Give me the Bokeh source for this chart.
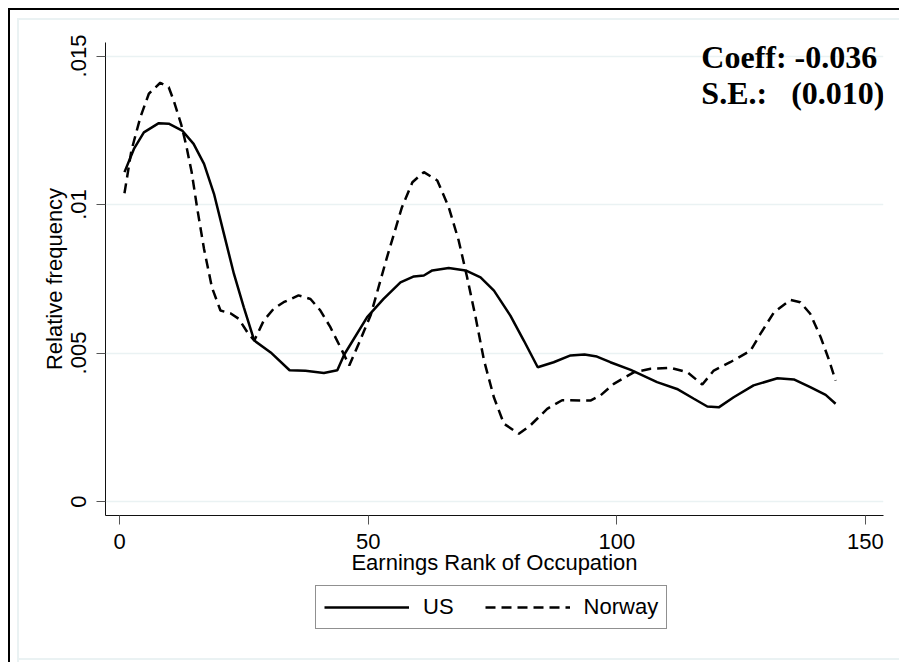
from bokeh.plotting import figure
from bokeh.layouts import column
from bokeh.models import (Range1d, FixedTicker, CustomJSTickFormatter, Legend, LegendItem, Label)
from bokeh.embed import file_html
from bokeh.resources import INLINE

# ---- data ----
us_x = [1, 2.9, 4.9, 7.9, 9.9, 12.6, 14.9, 17.0, 19.0, 21.0, 23.0, 25.0, 27.1, 30.4, 34.2,
        37.4, 41.1, 43.8, 45.2, 49.8, 53.1, 56.5, 59.2, 61.2, 62.9, 66.2, 69.6, 72.6, 75.3,
        78.6, 81.3, 84.1, 87.3, 90.7, 93.5, 96.0, 98.7, 102.8, 108.1, 112.1, 115.5, 118.2,
        120.5, 123.5, 127.5, 132.3, 135.6, 138.9, 142.0, 144.0]
us_y = [0.01109, 0.01187, 0.01243, 0.01274, 0.01272, 0.01249, 0.01204, 0.01137, 0.01036,
        0.00901, 0.00767, 0.00654, 0.00542, 0.00502, 0.00442, 0.00440, 0.00433, 0.00442,
        0.00495, 0.00621, 0.00682, 0.00738, 0.00758, 0.00761, 0.00778, 0.00786, 0.00778,
        0.00755, 0.00710, 0.00626, 0.00542, 0.00452, 0.00469, 0.00492, 0.00495, 0.00488,
        0.00469, 0.00443, 0.00402, 0.00379, 0.00346, 0.00320, 0.00317, 0.00351, 0.00391,
        0.00415, 0.00411, 0.00385, 0.00359, 0.00329]

no_x = [1, 2.4, 4.2, 5.9, 8.2, 9.9, 10.9, 12.4, 13.4, 14.5, 15.6, 17.0, 18.6, 20.3, 22.3,
        24.0, 25.7, 27.1, 29.0, 31.0, 33.0, 36.0, 38.4, 40.4, 42.4, 44.4, 46.2, 48.1, 50.5,
        53.8, 56.8, 58.9, 61.2, 63.9, 66.2, 68.2, 69.9, 71.6, 73.3, 75.3, 77.3, 80.3, 82.6,
        86.0, 89.0, 94.7, 96.7, 99.4, 103.4, 106.8, 110.8, 114.2, 117.2, 119.5, 122.8,
        126.9, 128.9, 131.6, 134.9, 136.9, 138.9, 141.0, 142.6, 144.0]
no_y = [0.01038, 0.01182, 0.01294, 0.01373, 0.01410, 0.01395, 0.01350, 0.01270, 0.01200,
        0.01110, 0.00990, 0.00850, 0.00720, 0.00643, 0.00634, 0.00615, 0.00570, 0.00542,
        0.00609, 0.00649, 0.00671, 0.00694, 0.00682, 0.00643, 0.00587, 0.00520, 0.00458,
        0.00531, 0.00627, 0.00823, 0.00991, 0.01075, 0.01109, 0.01081, 0.00991, 0.00879,
        0.00755, 0.00621, 0.00475, 0.00350, 0.00262, 0.00228, 0.00256, 0.00312, 0.00341,
        0.00340, 0.00357, 0.00396, 0.00435, 0.00447, 0.00450, 0.00435, 0.00394, 0.00441,
        0.00469, 0.00508, 0.00565, 0.00637, 0.00679, 0.00671, 0.00632, 0.00553, 0.00480,
        0.00407]

x_ticks = [0, 50, 100, 150]
y_ticks = [0, 0.005, 0.01, 0.015]
series_names = ["US", "Norway"]
coef_text = "Coeff: -0.036"
se_text = "S.E.:\u00a0\u00a0\u00a0(0.010)"

FONT = "Liberation Sans"
GRID = "#EAF2F3"
NORWAY_DASH = "10 6"

# ---------------- main plot ----------------
p = figure(frame_width=778, frame_height=473, output_backend="svg", toolbar_location=None,
           x_range=Range1d(-2.815, 153.63), y_range=Range1d(-0.000471, 0.015455),
           min_border_left=105, min_border_top=42, min_border_right=16, min_border_bottom=69)
p.background_fill_color = "white"
p.border_fill_alpha = 0
p.outline_line_color = None
p.styles = {
    "background-color": "white",
    "box-shadow": ("inset 8px 8px 0 0 white, inset 10px 10px 0 0 black, "
                   "inset 17px 18px 0 0 white, inset 19px 20px 0 0 #EAF2F3"),
}

p.xaxis.ticker = FixedTicker(ticks=x_ticks)
p.yaxis.ticker = FixedTicker(ticks=y_ticks)
p.yaxis.formatter = CustomJSTickFormatter(
    code="return tick == 0 ? '0' : tick.toString().replace(/^0/, '');")
for ax in (p.xaxis, p.yaxis):
    ax.axis_line_color = "#111111"
    ax.axis_line_width = 1
    ax.major_tick_line_color = "#555555"
    ax.major_tick_line_width = 1
    ax.major_tick_out = 9
    ax.major_tick_in = 0
    ax.minor_tick_line_color = None
    ax.major_label_text_font = FONT
    ax.major_label_text_font_size = "22px"
    ax.major_label_text_color = "black"
    ax.axis_label_text_font = FONT
    ax.axis_label_text_font_size = "22px"
    ax.axis_label_text_font_style = "normal"
    ax.axis_label_text_color = "black"
p.xaxis.axis_label = "Earnings Rank of Occupation"
p.yaxis.axis_label = "Relative frequency"
p.yaxis.major_label_orientation = "parallel"
p.xaxis.major_label_standoff = 9
p.yaxis.major_label_standoff = 10
p.xaxis.axis_label_standoff = -2
p.yaxis.axis_label_standoff = 2

p.xgrid.grid_line_color = None
p.ygrid.ticker = FixedTicker(ticks=y_ticks)
p.ygrid.grid_line_color = GRID
p.ygrid.grid_line_width = 1.5

p.line(us_x, us_y, line_color="black", line_width=2.5)
p.line(no_x, no_y, line_color="black", line_width=2.5, line_dash=NORWAY_DASH)

for txt, yv in ((coef_text, 0.01495), (se_text, 0.01374)):
    p.add_layout(Label(x=117.0, y=yv, text=txt, text_font="Liberation Serif",
                       text_font_style="bold", text_font_size="32px",
                       text_color="black", text_baseline="alphabetic", text_align="left"))

# ---------------- legend strip ----------------
q = figure(width=899, height=78, output_backend="svg", toolbar_location=None,
           x_axis_location=None, y_axis_location=None, min_border=0,
           x_range=Range1d(0, 1), y_range=Range1d(0, 1))
q.grid.visible = False
q.outline_line_color = None
q.background_fill_alpha = 0
q.border_fill_alpha = 0
q.styles = {
    "background-color": "white",
    "box-shadow": ("inset 8px 0 0 0 white, inset 10px 0 0 0 black, "
                   "inset 17px 0 0 0 white, inset 19px 0 0 0 #EAF2F3, "
                   "inset 0 -2px 0 0 white, inset 0 -4px 0 0 #EAF2F3"),
}
# legend-key lines (kept outside the visible range of this strip)
l_us = q.line([-5, -4], [-5, -5], line_color="black", line_width=2.5)
l_no = q.line([-5, -4], [-5, -5], line_color="black", line_width=2.5, line_dash=NORWAY_DASH)
legend = Legend(items=[LegendItem(label=series_names[0], renderers=[l_us]),
                       LegendItem(label=series_names[1], renderers=[l_no])],
                location=(210, 33), orientation="horizontal",
                glyph_width=85, glyph_height=22, label_standoff=14, spacing=31,
                padding=8, margin=0,
                label_text_font=FONT, label_text_font_size="22px", label_text_color="black",
                border_line_color="#222222", border_line_width=1,
                background_fill_color="white", background_fill_alpha=1)
q.add_layout(legend, "center")

layout = column(p, q, spacing=0)
open("out.html", "w").write(file_html(layout, INLINE))
